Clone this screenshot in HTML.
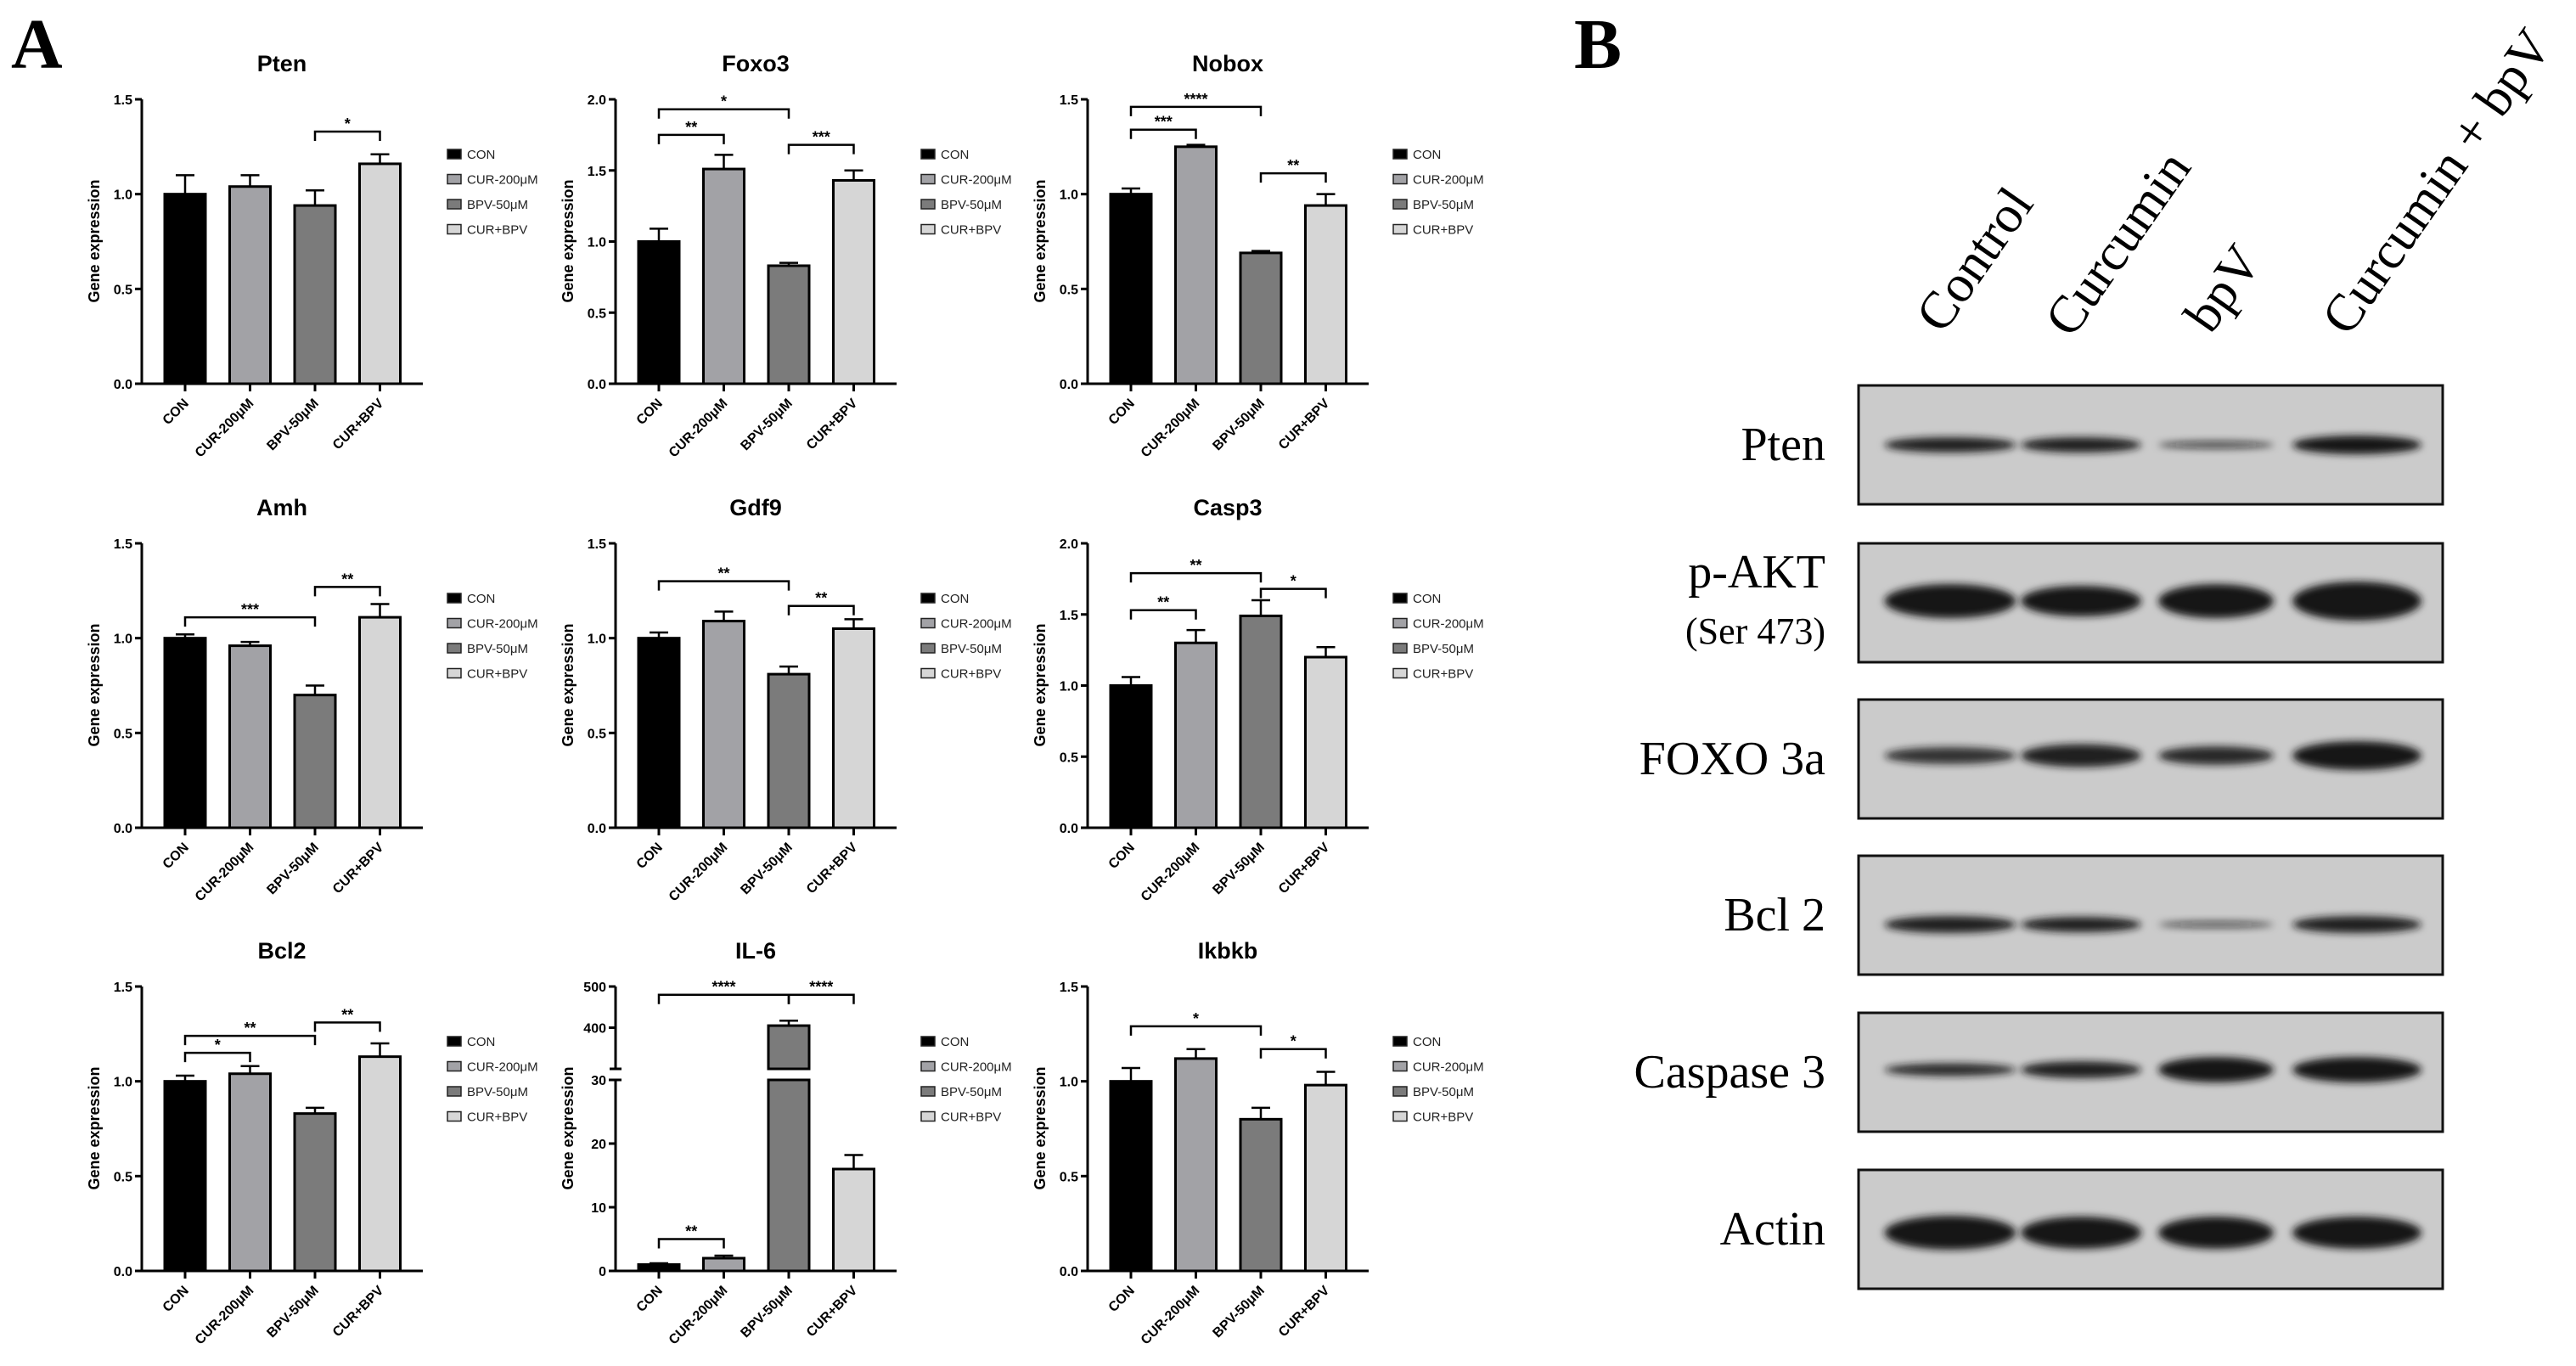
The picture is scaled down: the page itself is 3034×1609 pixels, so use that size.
<!DOCTYPE html>
<html><head><meta charset="utf-8"><style>
html,body{margin:0;padding:0;background:#fff;}
svg{display:block;}
</style></head><body>
<svg id="fig" width="3034" height="1609" viewBox="0 0 3034 1609" xmlns="http://www.w3.org/2000/svg">
<defs><filter id="blur" x="-20%" y="-100%" width="140%" height="300%"><feGaussianBlur stdDeviation="4.5"/></filter></defs>
<rect x="0" y="0" width="3034" height="1609" fill="#fff"/>
<text x="13" y="80" font-family="Liberation Serif, serif" font-weight="bold" font-size="84">A</text>
<text x="1854" y="80" font-family="Liberation Serif, serif" font-weight="bold" font-size="84">B</text>
</svg>
<script>
const categories=['CON','CUR-200μM','BPV-50μM','CUR+BPV'];
const yTicks15=[0,0.5,1.0,1.5];
const yTicks20=[0,0.5,1.0,1.5,2.0];
const il6TicksLow=[0,10,20,30];
const il6TicksHigh=[400,500];

const ptenValues=[1.00,1.04,0.94,1.16];
const ptenErrors=[0.10,0.06,0.08,0.05];
const ptenBrackets=[[2,3,1.33,'*']];
const foxo3Values=[1.00,1.51,0.83,1.43];
const foxo3Errors=[0.09,0.10,0.02,0.07];
const foxo3Brackets=[[0,1,1.75,'**'],[0,2,1.93,'*'],[2,3,1.68,'***']];
const noboxValues=[1.00,1.25,0.69,0.94];
const noboxErrors=[0.03,0.01,0.01,0.06];
const noboxBrackets=[[0,1,1.34,'***'],[0,2,1.46,'****'],[2,3,1.11,'**']];
const amhValues=[1.00,0.96,0.70,1.11];
const amhErrors=[0.02,0.02,0.05,0.07];
const amhBrackets=[[0,2,1.11,'***'],[2,3,1.27,'**']];
const gdf9Values=[1.00,1.09,0.81,1.05];
const gdf9Errors=[0.03,0.05,0.04,0.05];
const gdf9Brackets=[[0,2,1.30,'**'],[2,3,1.17,'**']];
const casp3Values=[1.00,1.30,1.49,1.20];
const casp3Errors=[0.06,0.09,0.11,0.07];
const casp3Brackets=[[0,1,1.53,'**'],[0,2,1.79,'**'],[2,3,1.68,'*']];
const bcl2Values=[1.00,1.04,0.83,1.13];
const bcl2Errors=[0.03,0.04,0.03,0.07];
const bcl2Brackets=[[0,1,1.15,'*'],[0,2,1.24,'**'],[2,3,1.31,'**']];
const il6Values=[1.0,2.0,405,16];
const il6Errors=[0.2,0.4,12,2.2];
const il6Brackets=[[0,1,5,'**'],[0,2,480,'****'],[2,3,480,'****']];
const ikbkbValues=[1.00,1.12,0.80,0.98];
const ikbkbErrors=[0.07,0.05,0.06,0.07];
const ikbkbBrackets=[[0,2,1.29,'*'],[2,3,1.17,'*']];

const blotLabels=['Pten','p-AKT','FOXO 3a','Bcl 2','Caspase 3','Actin'];
const laneLabels=['Control','Curcumin','bpV','Curcumin + bpV'];
const bandThickness=[[18,18,9,22],[40,36,40,46],[20,27,22,34],[20,18,8,20],[15,20,30,30],[40,38,38,38]];
const bandDarkness=[[0.95,0.95,0.7,1],[1,1,1,1],[0.85,0.95,0.9,1],[0.95,0.95,0.65,0.95],[0.9,0.95,1,1],[1,1,1,1]];

const NS='http://www.w3.org/2000/svg';
const svg=document.getElementById('fig');
function el(tag,attrs,parent){const e=document.createElementNS(NS,tag);for(const k in attrs)e.setAttribute(k,attrs[k]);(parent||svg).appendChild(e);return e;}
const SANS='Liberation Sans, Arial, sans-serif';
const SERIF='Liberation Serif, serif';
const barFill=['#000000','#a2a2a6','#7b7b7b','#d6d6d6'];
const colX=[167,725,1281];
const rowZ=[452,975,1497];
const PH=335;

const panels=[
 {title:'Pten',values:ptenValues,errors:ptenErrors,brackets:ptenBrackets,ymax:1.5,ticks:yTicks15,col:0,row:0},
 {title:'Foxo3',values:foxo3Values,errors:foxo3Errors,brackets:foxo3Brackets,ymax:2.0,ticks:yTicks20,col:1,row:0},
 {title:'Nobox',values:noboxValues,errors:noboxErrors,brackets:noboxBrackets,ymax:1.5,ticks:yTicks15,col:2,row:0},
 {title:'Amh',values:amhValues,errors:amhErrors,brackets:amhBrackets,ymax:1.5,ticks:yTicks15,col:0,row:1},
 {title:'Gdf9',values:gdf9Values,errors:gdf9Errors,brackets:gdf9Brackets,ymax:1.5,ticks:yTicks15,col:1,row:1},
 {title:'Casp3',values:casp3Values,errors:casp3Errors,brackets:casp3Brackets,ymax:2.0,ticks:yTicks20,col:2,row:1},
 {title:'Bcl2',values:bcl2Values,errors:bcl2Errors,brackets:bcl2Brackets,ymax:1.5,ticks:yTicks15,col:0,row:2},
 {title:'IL-6',values:il6Values,errors:il6Errors,brackets:il6Brackets,broken:true,col:1,row:2},
 {title:'Ikbkb',values:ikbkbValues,errors:ikbkbErrors,brackets:ikbkbBrackets,ymax:1.5,ticks:yTicks15,col:2,row:2}
];

function drawPanel(p){
  const ax=colX[p.col], z=rowZ[p.row];
  const slug=p.title.toLowerCase().replace(/[^a-z0-9]/g,'');
  const g=el('g',{});
  
  
  let yf;
  if(p.broken){
    yf=v=> v<=30 ? z-v/30*225 : z-238-(v-300)/200*97;
  } else {
    yf=v=> z-v/p.ymax*PH;
  }
  const xc=i=>ax+51+i*76.5;
  const t=el('text',{x:ax+165,y:z-368,'text-anchor':'middle','font-family':SANS,'font-weight':'bold','font-size':27},g);
  t.textContent=p.title;
  
  
  const yl=el('text',{x:0,y:0,transform:`translate(${ax-50},${z-168}) rotate(-90)`,'text-anchor':'middle','font-family':SANS,'font-weight':'bold','font-size':18},g);
  yl.textContent='Gene expression';
  
  
  p.values.forEach((v,i)=>{
    const x0=ax+27+i*76.5;
    if(p.broken && v>30){
      const r1=el('rect',{x:x0,y:yf(30),width:48,height:z-yf(30),fill:barFill[i],stroke:'#000','stroke-width':3},g);
      
      
      const r2=el('rect',{x:x0,y:yf(v),width:48,height:yf(300)-yf(v),fill:barFill[i],stroke:'#000','stroke-width':3},g);
      
      
    } else {
      const r=el('rect',{x:x0,y:yf(v),width:48,height:z-yf(v),fill:barFill[i],stroke:'#000','stroke-width':3},g);
      
      
    }
    const e=p.errors[i], cx=xc(i);
    const eb=el('path',{d:`M${cx},${yf(v)} L${cx},${yf(v+e)} M${cx-11},${yf(v+e)} L${cx+11},${yf(v+e)}`,stroke:'#000','stroke-width':2.5,fill:'none'},g);
    
    
  });
  let axisD;
  if(p.broken){
    axisD=`M${ax},${z} L${ax},${yf(30)} M${ax},${yf(300)} L${ax},${yf(500)}`;
  } else axisD=`M${ax},${z} L${ax},${yf(p.ymax)}`;
  const ya=el('path',{d:axisD,stroke:'#000','stroke-width':3,fill:'none'},g);
  
  
  if(p.broken){
    const bm=el('path',{d:`M${ax-7},${yf(30)} L${ax+7},${yf(30)} M${ax-7},${yf(300)} L${ax+7},${yf(300)}`,stroke:'#000','stroke-width':3},g);
    
    
  }
  const xa=el('line',{x1:ax-2,y1:z,x2:ax+331,y2:z,stroke:'#000','stroke-width':3},g);
  
  
  const ticks=p.broken?il6TicksLow.concat(il6TicksHigh):p.ticks;
  ticks.forEach(tv=>{
    const ty=yf(tv);
    const tk=el('line',{x1:ax-8,y1:ty,x2:ax,y2:ty,stroke:'#000','stroke-width':3},g);
    
    
    const tl=el('text',{x:ax-11,y:ty+6,'text-anchor':'end','font-family':SANS,'font-weight':'bold','font-size':16},g);
    tl.textContent=p.broken?String(tv):tv.toFixed(1);
    
    
  });
  categories.forEach((c,i)=>{
    const cx=xc(i);
    const tk=el('line',{x1:cx,y1:z,x2:cx,y2:z+9,stroke:'#000','stroke-width':3},g);
    
    
    const tl=el('text',{x:cx+5,y:z+24,'text-anchor':'end','font-family':SANS,'font-weight':'bold','font-size':16,transform:`rotate(-45 ${cx+5} ${z+24})`},g);
    tl.textContent=c;
    
    
  });
  p.brackets.forEach(b=>{
    const x1=xc(b[0]),x2=xc(b[1]),by=yf(b[2]);
    const br=el('path',{d:`M${x1},${by+11} L${x1},${by} L${x2},${by} L${x2},${by+11}`,stroke:'#000','stroke-width':2.5,fill:'none'},g);
    
    
    const st=el('text',{x:(x1+x2)/2,y:by-3,'text-anchor':'middle','font-family':SANS,'font-weight':'bold','font-size':18},g);
    st.textContent=b[3];
    
    
  });
  categories.forEach((c,i)=>{
    const ly=z-270+i*29.5;
    const sw=el('rect',{x:ax+360,y:ly-6,width:16,height:11,fill:barFill[i],stroke:'#222','stroke-width':1.5},g);
    
    
    const lt=el('text',{x:ax+383,y:ly+5,'font-family':SANS,'font-size':15,fill:'#222'},g);
    lt.textContent=c;
    
    
  });
}
panels.forEach(drawPanel);

const boxTop=[454,640,824,1008,1193,1378];
const bandOffset=[70,68,66,81,67,74];
const laneCx=[2297,2451,2610,2776];
const laneW=[155,142,136,152];
const wb=el('g',{});


boxTop.forEach((top,r)=>{
  const bx=el('rect',{x:2189,y:top,width:688,height:140,fill:'#cbcbcb',stroke:'#111','stroke-width':3},wb);
  
  
  laneCx.forEach((cx,l)=>{
    const bd=el('ellipse',{cx:cx,cy:top+bandOffset[r],rx:laneW[l]/2,ry:bandThickness[r][l]/2,fill:'#151515','fill-opacity':bandDarkness[r][l],filter:'url(#blur)'},wb);
    
    
  });
  const lab=el('text',{x:2150,y:top+(r===1?52:88),'text-anchor':'end','font-family':SERIF,'font-size':56},wb);
  lab.textContent=blotLabels[r];
  
  
});
const ser=el('text',{x:2150,y:758,'text-anchor':'end','font-family':SERIF,'font-size':44},wb);
ser.textContent='(Ser 473)';


const laneStart=[[2288,395],[2440,400],[2604,395],[2766,398]];
laneLabels.forEach((t,i)=>{
  const [x,y]=laneStart[i];
  const tx=el('text',{x:x,y:y,'font-family':SERIF,'font-size':62,transform:`rotate(-55 ${x} ${y})`},wb);
  tx.textContent=t;
  
  
});
</script>
</body></html>
